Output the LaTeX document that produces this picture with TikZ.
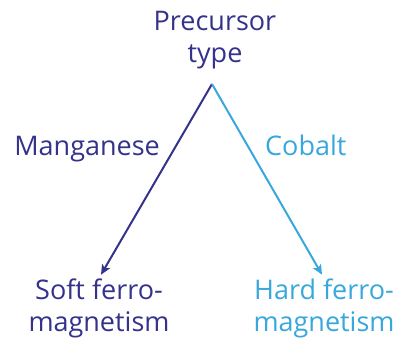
\documentclass[tikz,border=0pt]{standalone}
\usepackage{fontspec}
\setmainfont{Open Sans}
\usetikzlibrary{arrows.meta}
\definecolor{mnblue}{RGB}{52,50,138}
\definecolor{coblue}{RGB}{56,168,220}

\begin{document}
\begin{tikzpicture}[x=1pt, y=-1pt, >={Stealth[length=10pt, width=9pt, inset=2.5pt]},
    label/.style={font=\fontsize{27}{32}\selectfont, align=center, inner sep=0pt},
    branch/.style={->, line width=2pt, shorten >=4pt}]

    % Window of the reference, 395 x 348 px
    \useasboundingbox (0,0) rectangle (395,348);

    % Root of the tree (base = baseline of the last line)
    \node[label, mnblue, anchor=base] (precursor) at (215,62) {Precursor\\type};
    \coordinate (apex) at (212,84);

    % Leaves
    \node[label, mnblue, anchor=base] (soft) at (99,331) {Soft ferro-\\magnetism};
    \node[label, coblue, anchor=base] (hard) at (324,331) {Hard ferro-\\magnetism};

    % Branches
    \draw[branch, mnblue] (apex) -- (soft.north);
    \draw[branch, coblue] (apex) -- (hard.north);

    % Branch labels
    \node[label, mnblue, anchor=base east] (mn) at (160,155) {Manganese};
    \node[label, coblue, anchor=base west] (co) at (265,155) {Cobalt};

\end{tikzpicture}
\end{document}
